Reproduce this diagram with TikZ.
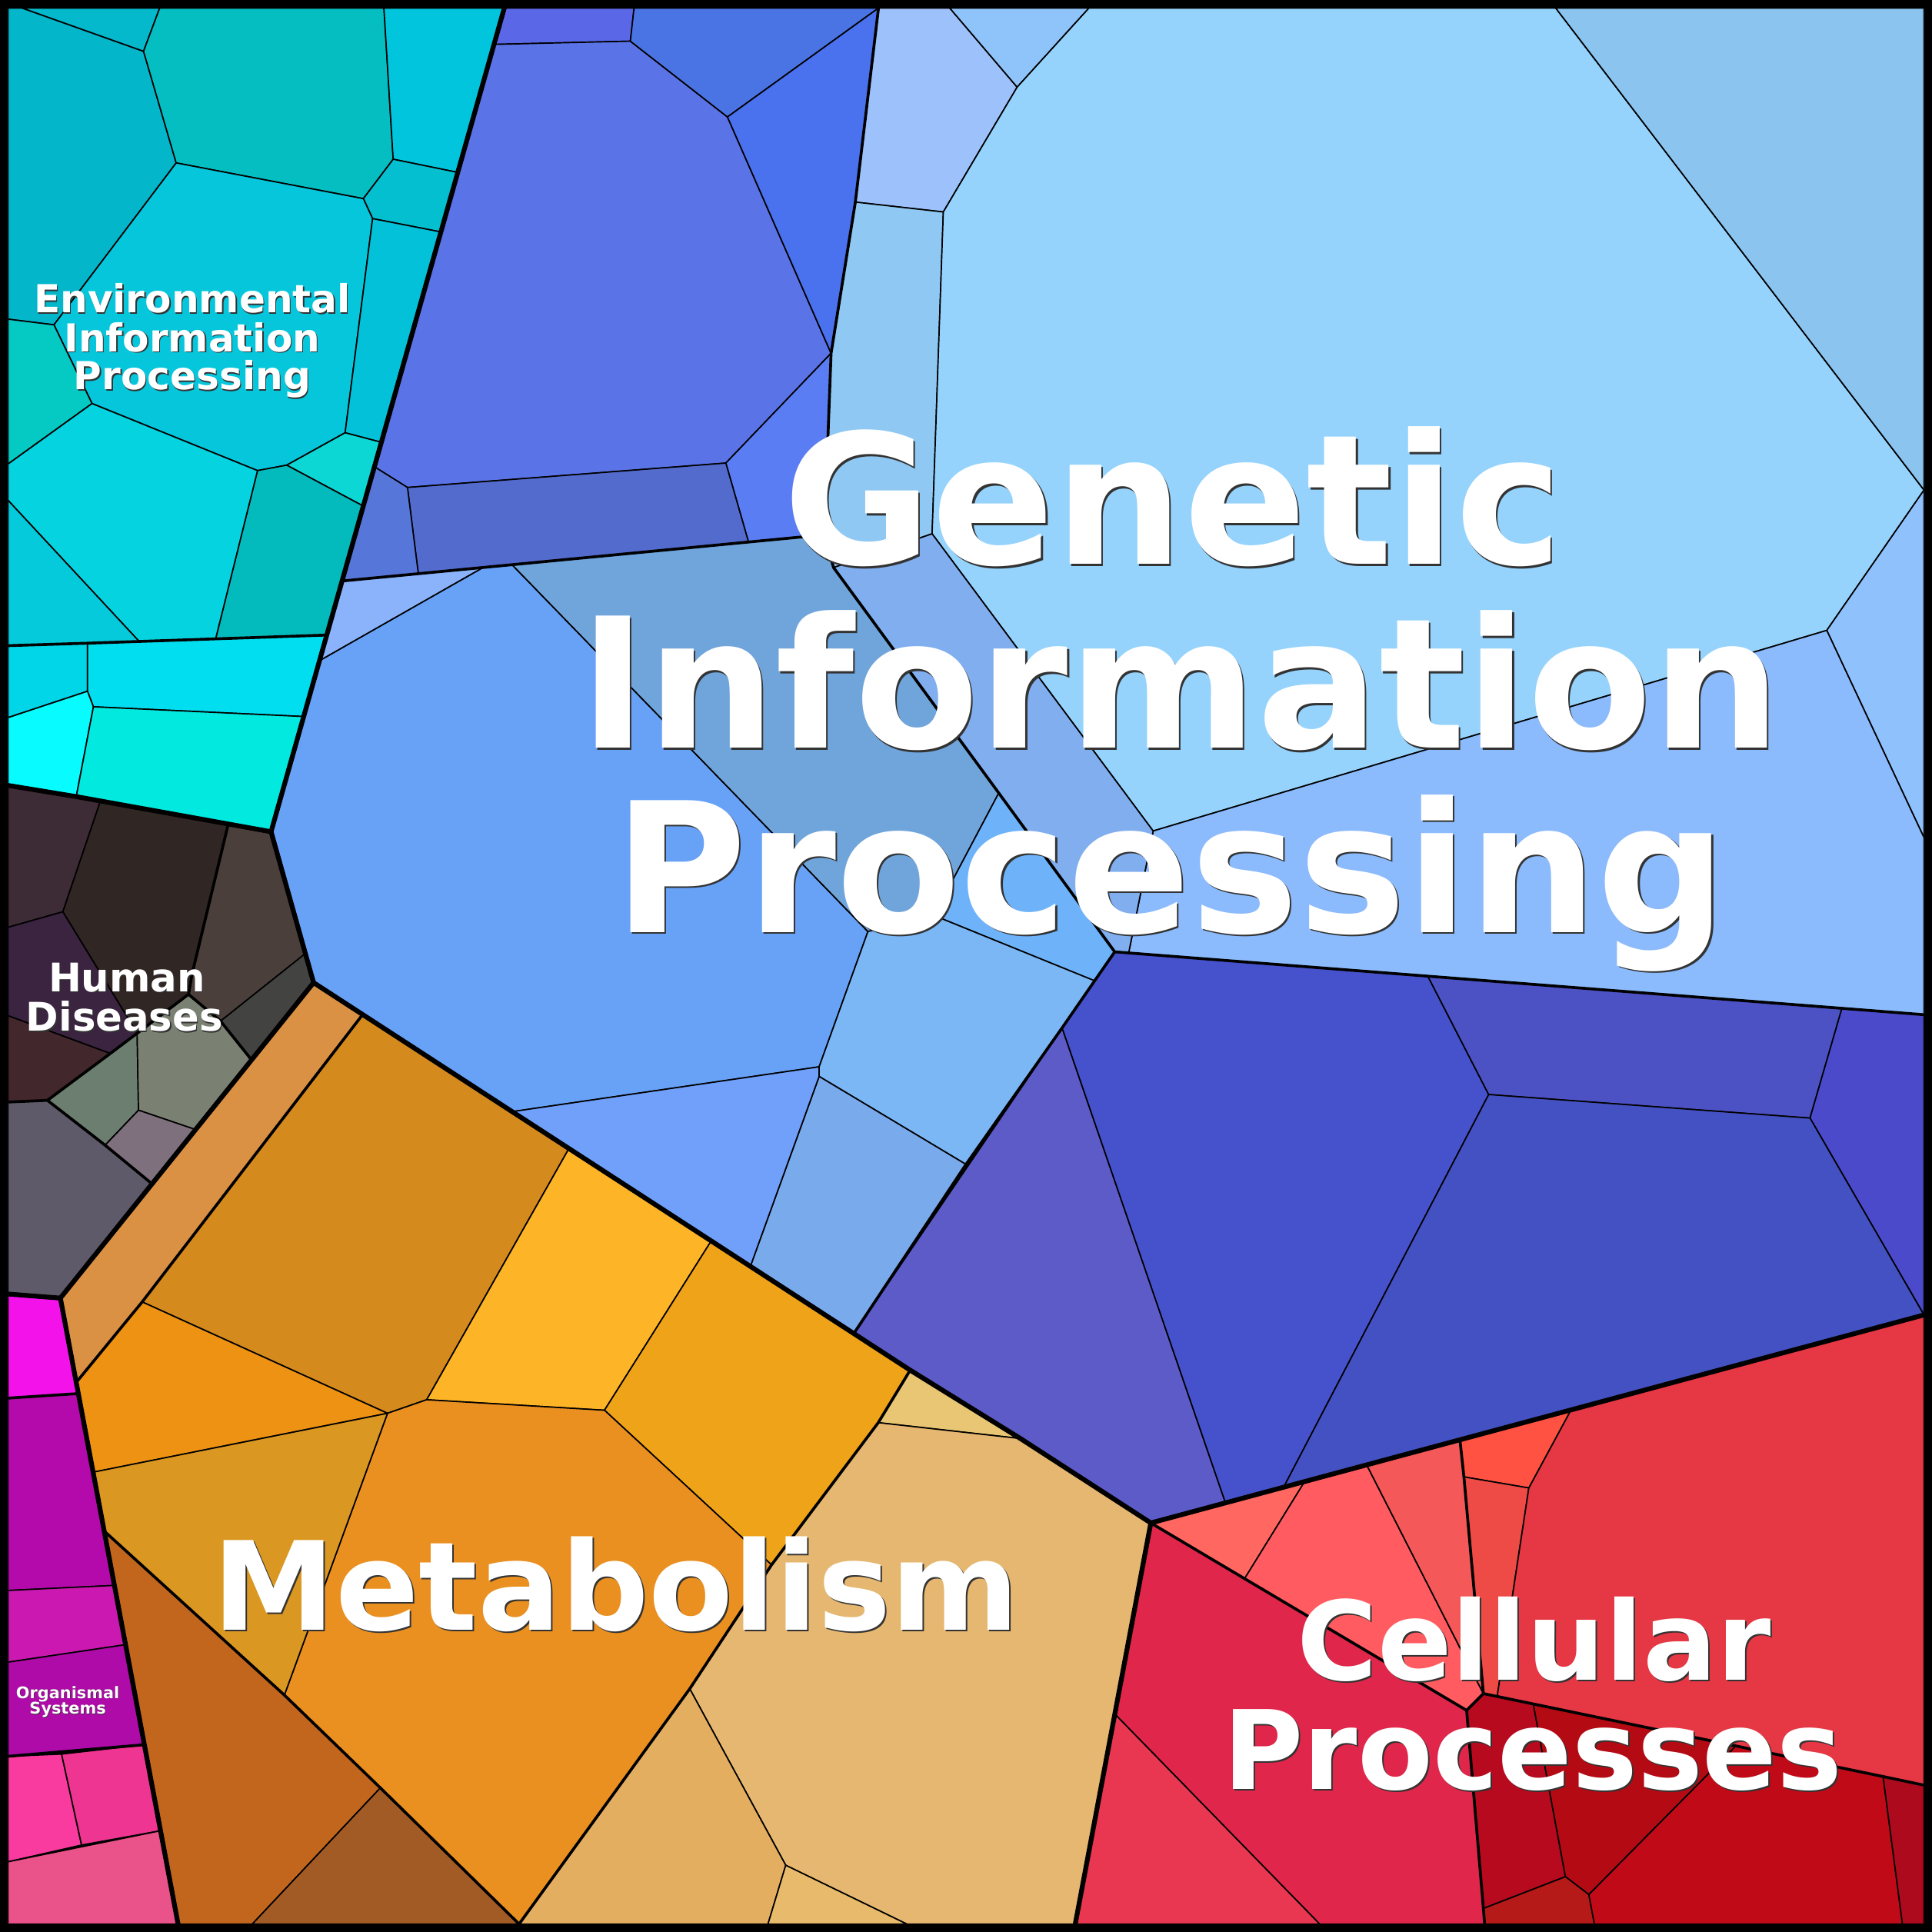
\documentclass[tikz,border=0pt]{standalone}
\usepackage{fontspec}
\setmainfont{DejaVu Sans}
% EIP
\definecolor{kE1}{HTML}{03B6CA}\definecolor{kE2}{HTML}{04B9CC}\definecolor{kE3}{HTML}{05BEC2}
\definecolor{kE4}{HTML}{00C5DC}\definecolor{kE5}{HTML}{04BFD0}\definecolor{kE6}{HTML}{06C6DC}
\definecolor{kE7}{HTML}{02C1D8}\definecolor{kE8}{HTML}{0DD7D5}\definecolor{kE9}{HTML}{03BBBC}
\definecolor{kE10}{HTML}{05C9C3}\definecolor{kE11}{HTML}{05D4E0}\definecolor{kE12}{HTML}{04CADB}
\definecolor{kE13}{HTML}{00D6E8}\definecolor{kE14}{HTML}{00DEEF}\definecolor{kE15}{HTML}{08FCFF}
\definecolor{kE16}{HTML}{02E9DF}
% HD
\definecolor{kH1}{HTML}{3D2B35}\definecolor{kH2}{HTML}{302624}\definecolor{kH3}{HTML}{3A2440}
\definecolor{kH4}{HTML}{42272C}\definecolor{kH5}{HTML}{4A3F3B}\definecolor{kH6}{HTML}{434341}
\definecolor{kH7}{HTML}{6C7E70}\definecolor{kH8}{HTML}{7A8173}\definecolor{kH9}{HTML}{7E707D}
\definecolor{kH10}{HTML}{5E5A6A}
% OS
\definecolor{kO1}{HTML}{F313EA}\definecolor{kO2}{HTML}{B40AAB}\definecolor{kO3}{HTML}{CA18B0}
\definecolor{kO4}{HTML}{AE0BA8}\definecolor{kO5}{HTML}{F93A9E}\definecolor{kO6}{HTML}{EF3592}
\definecolor{kO7}{HTML}{EA528A}
% GIP
\definecolor{kA1}{HTML}{5A68E8}\definecolor{kA2}{HTML}{5A73E6}\definecolor{kA3}{HTML}{4A74E4}
\definecolor{kA4}{HTML}{4A71EE}\definecolor{kA5}{HTML}{5A7DF3}\definecolor{kA6}{HTML}{526BCD}
\definecolor{kA7}{HTML}{5776DA}
\definecolor{kB1}{HTML}{9DC1FA}\definecolor{kB2}{HTML}{8FC4FA}\definecolor{kB3}{HTML}{8FC8F3}
\definecolor{kB4}{HTML}{95D3FD}\definecolor{kB5}{HTML}{80AEEF}\definecolor{kB6}{HTML}{8BBBFC}
\definecolor{kB7}{HTML}{8AC4EF}\definecolor{kB8}{HTML}{8FC1FC}
\definecolor{kC1}{HTML}{8AB3FB}\definecolor{kC2}{HTML}{68A2F7}\definecolor{kC3}{HTML}{70A5DC}
\definecolor{kC4}{HTML}{6EB3FA}\definecolor{kC5}{HTML}{7BB6F5}\definecolor{kC6}{HTML}{78AAEC}
\definecolor{kC7}{HTML}{70A0F9}
\definecolor{kD1}{HTML}{5C5BC8}\definecolor{kD2}{HTML}{4652CC}\definecolor{kD3}{HTML}{4C52C4}
\definecolor{kD4}{HTML}{4B4ACB}\definecolor{kD5}{HTML}{4451C2}
% Metabolism
\definecolor{kM1}{HTML}{DA9143}\definecolor{kM2}{HTML}{D48A1C}\definecolor{kM3}{HTML}{FDB426}
\definecolor{kM4}{HTML}{EFA318}\definecolor{kM5}{HTML}{EA9020}\definecolor{kM6}{HTML}{EE9214}
\definecolor{kM7}{HTML}{DA9822}\definecolor{kBr1}{HTML}{C2661E}\definecolor{kBr2}{HTML}{A35B26}
\definecolor{kP1}{HTML}{E8C673}\definecolor{kP2}{HTML}{E5B770}\definecolor{kP3}{HTML}{E3AE60}
\definecolor{kP4}{HTML}{E8BB6C}
% Cellular
\definecolor{kQ1}{HTML}{FF6760}\definecolor{kQ2}{HTML}{FF5B60}\definecolor{kQ3}{HTML}{F45858}
\definecolor{kQ4}{HTML}{FF5242}\definecolor{kQ5}{HTML}{EE4A46}\definecolor{kQ6}{HTML}{E53744}
\definecolor{kQ7}{HTML}{E0264A}\definecolor{kQ8}{HTML}{E93752}\definecolor{kQ9}{HTML}{B80A1E}
\definecolor{kQ10}{HTML}{B40A14}\definecolor{kQ11}{HTML}{B51A18}\definecolor{kQ12}{HTML}{C00A18}
\definecolor{kQ13}{HTML}{AE0A1E}
\tikzset{
  leafcell/.style={draw=black, line width=0.3pt, line join=round},
  lvltwo/.style={draw=black, line width=0.65pt, line join=round, line cap=round},
  lvlone/.style={draw=black, line width=1.1pt, line join=round, line cap=round},
  lbltext/.style={inner sep=0pt, anchor=base, text=white},
  lblshade/.style={inner sep=0pt, anchor=base, text=black!80},
}
\newcommand\mylbl[6]{%
  \node[lblshade, font=\bfseries\fontsize{#4}{#4}\selectfont, xshift=#5, yshift=-#5] (#1-sh) at (#2,#3) {#6};
  \node[lbltext, font=\bfseries\fontsize{#4}{#4}\selectfont] (#1) at (#2,#3) {#6};
}
\begin{document}
\begin{tikzpicture}[x=0.01cm, y=-0.01cm]
\useasboundingbox (0,0) rectangle (1568,1568);
\fill[black] (0,0) rectangle (1568,1568);
\begin{scope}
\clip (6.5,6.5) rectangle (1561.5,1561.5);
% ---------- Environmental Information Processing
\filldraw[leafcell, fill=kE1] (6.5,6.5) -- (18,6.5) -- (116.5,41.6) -- (143,132.2) -- (43.8,263.6) -- (6.5,259) -- cycle;
\filldraw[leafcell, fill=kE2] (18,6.5) -- (129.6,6.5) -- (116.5,41.6) -- cycle;
\filldraw[leafcell, fill=kE3] (129.6,6.5) -- (311.6,6.5) -- (319.1,129.2) -- (294.9,161.2) -- (143,132.2) -- (116.5,41.6) -- cycle;
\filldraw[leafcell, fill=kE4] (311.6,6.5) -- (410,6.5) -- (372,140) -- (319.1,129.2) -- cycle;
\filldraw[leafcell, fill=kE5] (319.1,129.2) -- (372,140) -- (358.2,188.3) -- (302.4,177.4) -- (294.9,161.2) -- cycle;
\filldraw[leafcell, fill=kE6] (143,132.2) -- (294.9,161.2) -- (302.4,177.4) -- (280.1,351.2) -- (232.7,377.5) -- (209,381.9) -- (74.7,327.5) -- (43.8,263.6) -- cycle;
\filldraw[leafcell, fill=kE7] (302.4,177.4) -- (358.2,188.3) -- (309.7,359) -- (280.1,351.2) -- cycle;
\filldraw[leafcell, fill=kE8] (280.1,351.2) -- (309.7,359) -- (295,410.8) -- (232.7,377.5) -- cycle;
\filldraw[leafcell, fill=kE9] (232.7,377.5) -- (295,410.8) -- (265.4,515.4) -- (175,518.4) -- (209,381.9) -- cycle;
\filldraw[leafcell, fill=kE10] (6.5,259) -- (43.8,263.6) -- (74.7,327.5) -- (6.5,376.6) -- cycle;
\filldraw[leafcell, fill=kE11] (6.5,376.6) -- (74.7,327.5) -- (209,381.9) -- (175,518.4) -- (112.9,520.5) -- (6.5,406) -- cycle;
\filldraw[leafcell, fill=kE12] (6.5,406) -- (112.9,520.5) -- (6.5,524) -- cycle;
\filldraw[leafcell, fill=kE13] (6.5,524) -- (71,522) -- (71,561) -- (6.5,582.4) -- cycle;
\filldraw[leafcell, fill=kE14] (71,522) -- (265.4,515.4) -- (246.4,581.5) -- (75.8,573.6) -- (71,561) -- cycle;
\filldraw[leafcell, fill=kE15] (6.5,582.4) -- (71,561) -- (75.8,573.6) -- (61.9,646.5) -- (6.5,637) -- cycle;
\filldraw[leafcell, fill=kE16] (75.8,573.6) -- (246.4,581.5) -- (220,675) -- (61.9,646.5) -- cycle;
% ---------- Human Diseases
\filldraw[leafcell, fill=kH1] (6.5,637) -- (81.2,651) -- (51,740) -- (6.5,752.6) -- cycle;
\filldraw[leafcell, fill=kH2] (81.2,651) -- (185.2,669) -- (156,790) -- (153,807) -- (111.3,838.6) -- (51,740) -- cycle;
\filldraw[leafcell, fill=kH3] (6.5,752.6) -- (51,740) -- (111.3,838.6) -- (89.5,855) -- (6.5,824.3) -- cycle;
\filldraw[leafcell, fill=kH4] (6.5,824.3) -- (89.5,855) -- (38.5,893) -- (6.5,894.4) -- cycle;
\filldraw[leafcell, fill=kH5] (185.2,669) -- (220,675) -- (248.3,773.5) -- (179,828.7) -- (153,807) -- (156,790) -- cycle;
\filldraw[leafcell, fill=kH6] (248.3,773.5) -- (254.5,797.5) -- (204,860) -- (179,828.7) -- cycle;
\filldraw[leafcell, fill=kH7] (38.5,893) -- (111.3,838.6) -- (112.4,901) -- (85.3,929.4) -- cycle;
\filldraw[leafcell, fill=kH8] (111.3,838.6) -- (153,807) -- (179,828.7) -- (204,860) -- (158,916.5) -- (112.4,901) -- cycle;
\filldraw[leafcell, fill=kH9] (85.3,929.4) -- (112.4,901) -- (158,916.5) -- (122.8,960.3) -- cycle;
\filldraw[leafcell, fill=kH10] (6.5,894.4) -- (38.5,893) -- (85.3,929.4) -- (122.8,960.3) -- (49,1053.5) -- (6.5,1050) -- cycle;
% ---------- Organismal Systems
\filldraw[leafcell, fill=kO1] (6.5,1050) -- (49,1053.5) -- (63.6,1131) -- (6.5,1134.7) -- cycle;
\filldraw[leafcell, fill=kO2] (6.5,1134.7) -- (63.6,1131) -- (92.8,1286.7) -- (6.5,1290.8) -- cycle;
\filldraw[leafcell, fill=kO3] (6.5,1290.8) -- (92.8,1286.7) -- (101.9,1334.8) -- (6.5,1349) -- cycle;
\filldraw[leafcell, fill=kO4] (6.5,1349) -- (101.9,1334.8) -- (117.1,1416) -- (6.5,1425.4) -- cycle;
\filldraw[leafcell, fill=kO5] (6.5,1425.4) -- (50,1423.6) -- (66.2,1497.4) -- (6.5,1511) -- cycle;
\filldraw[leafcell, fill=kO6] (50,1423.6) -- (117.1,1416) -- (130.3,1485.8) -- (66.2,1497.4) -- cycle;
\filldraw[leafcell, fill=kO7] (6.5,1511) -- (130.3,1485.8) -- (144.5,1561.5) -- (6.5,1561.5) -- cycle;
% ---------- Genetic Information Processing: group A
\filldraw[leafcell, fill=kA1] (410,6.5) -- (514.6,6.5) -- (511.6,33.4) -- (401.5,36) -- cycle;
\filldraw[leafcell, fill=kA2] (401.5,36) -- (511.6,33.4) -- (590.4,94.9) -- (674.5,286.7) -- (589.1,375.8) -- (330.7,395.6) -- (304.2,379) -- cycle;
\filldraw[leafcell, fill=kA3] (514.6,6.5) -- (713,6.5) -- (590.4,94.9) -- (511.6,33.4) -- cycle;
\filldraw[leafcell, fill=kA4] (590.4,94.9) -- (713,6.5) -- (694.2,164) -- (674.5,286.7) -- cycle;
\filldraw[leafcell, fill=kA5] (674.5,286.7) -- (669,434) -- (607.5,439.9) -- (589.1,375.8) -- cycle;
\filldraw[leafcell, fill=kA6] (330.7,395.6) -- (589.1,375.8) -- (607.5,439.9) -- (339.5,465.6) -- cycle;
\filldraw[leafcell, fill=kA7] (304.2,379) -- (330.7,395.6) -- (339.5,465.6) -- (277.8,471.5) -- cycle;
% group B
\filldraw[leafcell, fill=kB1] (713,6.5) -- (770.8,6.5) -- (825.5,70.7) -- (765.6,172) -- (694.2,164) -- cycle;
\filldraw[leafcell, fill=kB2] (770.8,6.5) -- (883.8,6.5) -- (825.5,70.7) -- cycle;
\filldraw[leafcell, fill=kB3] (694.2,164) -- (765.6,172) -- (756.5,433.2) -- (676.5,460.6) -- (669,434) -- (674.5,286.7) -- cycle;
\filldraw[leafcell, fill=kB4] (765.6,172) -- (825.5,70.7) -- (883.8,6.5) -- (1262.6,6.5) -- (1561.5,397.7) -- (1482.6,511.6) -- (935.9,674.4) -- (756.5,433.2) -- cycle;
\filldraw[leafcell, fill=kB7] (1262.6,6.5) -- (1561.5,6.5) -- (1561.5,397.7) -- cycle;
\filldraw[leafcell, fill=kB8] (1561.5,397.7) -- (1561.5,679.8) -- (1482.6,511.6) -- cycle;
\filldraw[leafcell, fill=kB6] (935.9,674.4) -- (1482.6,511.6) -- (1561.5,679.8) -- (1561.5,823.5) -- (916,773.4) -- cycle;
\filldraw[leafcell, fill=kB5] (676.5,460.6) -- (756.5,433.2) -- (935.9,674.4) -- (916,773.4) -- (904.7,772.5) -- cycle;
% group C
\filldraw[leafcell, fill=kC1] (277.8,471.5) -- (392.3,460.5) -- (259.4,536.2) -- cycle;
\filldraw[leafcell, fill=kC2] (259.4,536.2) -- (392.3,460.5) -- (415.6,458.3) -- (704.4,756) -- (664.8,865.8) -- (415.6,902.2) -- (254.5,797.5) -- (220,675) -- cycle;
\filldraw[leafcell, fill=kC3] (415.6,458.3) -- (669,434) -- (676.5,460.6) -- (810.6,643.6) -- (758,743) -- (704.4,756) -- cycle;
\filldraw[leafcell, fill=kC4] (810.6,643.6) -- (904.7,772.5) -- (888.4,796) -- (758,743) -- cycle;
\filldraw[leafcell, fill=kC5] (704.4,756) -- (758,743) -- (888.4,796) -- (784,945) -- (664.8,873.6) -- (664.8,865.8) -- cycle;
\filldraw[leafcell, fill=kC6] (664.8,873.6) -- (784,945) -- (692.8,1082.5) -- (608.9,1028) -- cycle;
\filldraw[leafcell, fill=kC7] (415.6,902.2) -- (664.8,865.8) -- (664.8,873.6) -- (608.9,1028) -- (577.1,1007.3) -- (461.7,932.2) -- cycle;
% group D
\filldraw[leafcell, fill=kD1] (692.8,1082.5) -- (862,834.2) -- (994.6,1219.7) -- (934,1236) -- (828.2,1167.5) -- (738.7,1112) -- cycle;
\filldraw[leafcell, fill=kD2] (862,834.2) -- (904.7,772.5) -- (1158.8,792.2) -- (1208.2,888.3) -- (1041.8,1207) -- (994.6,1219.7) -- cycle;
\filldraw[leafcell, fill=kD3] (1158.8,792.2) -- (1494.9,818.3) -- (1469,907.4) -- (1208.2,888.3) -- cycle;
\filldraw[leafcell, fill=kD4] (1494.9,818.3) -- (1561.5,823.5) -- (1561.5,1067.2) -- (1469,907.4) -- cycle;
\filldraw[leafcell, fill=kD5] (1208.2,888.3) -- (1469,907.4) -- (1561.5,1067.2) -- (1041.8,1207) -- cycle;
% ---------- Metabolism
\filldraw[leafcell, fill=kM1] (49,1053.5) -- (254.5,797.5) -- (294.3,823.4) -- (115.4,1056.6) -- (61.9,1121.9) -- cycle;
\filldraw[leafcell, fill=kM2] (294.3,823.4) -- (415.6,902.2) -- (461.7,932.2) -- (346.3,1136) -- (314.5,1147) -- (115.4,1056.6) -- cycle;
\filldraw[leafcell, fill=kM3] (461.7,932.2) -- (577.1,1007.3) -- (490.6,1144.5) -- (346.3,1136) -- cycle;
\filldraw[leafcell, fill=kM4] (577.1,1007.3) -- (608.9,1028) -- (692.8,1082.5) -- (738.7,1112) -- (712.8,1154.6) -- (626.2,1270) -- (490.6,1144.5) -- cycle;
\filldraw[leafcell, fill=kM5] (314.5,1147) -- (346.3,1136) -- (490.6,1144.5) -- (626.2,1270) -- (559.8,1370.6) -- (421.3,1561.5) -- (308.7,1451) -- (230.8,1375.7) -- cycle;
\filldraw[leafcell, fill=kM6] (115.4,1056.6) -- (314.5,1147) -- (75.6,1194.8) -- (61.9,1121.9) -- cycle;
\filldraw[leafcell, fill=kM7] (75.6,1194.8) -- (314.5,1147) -- (230.8,1375.7) -- (84.5,1242.5) -- cycle;
\filldraw[leafcell, fill=kBr1] (84.5,1242.5) -- (230.8,1375.7) -- (308.7,1451) -- (204.8,1561.5) -- (144.5,1561.5) -- cycle;
\filldraw[leafcell, fill=kBr2] (308.7,1451) -- (421.3,1561.5) -- (204.8,1561.5) -- cycle;
\filldraw[leafcell, fill=kP1] (738.7,1112) -- (828.2,1167.5) -- (712.8,1154.6) -- cycle;
\filldraw[leafcell, fill=kP2] (712.8,1154.6) -- (828.2,1167.5) -- (934,1236) -- (872.7,1561.5) -- (735.9,1561.5) -- (637.7,1513.8) -- (559.8,1370.6) -- (626.2,1270) -- cycle;
\filldraw[leafcell, fill=kP3] (559.8,1370.6) -- (637.7,1513.8) -- (623.3,1561.5) -- (421.3,1561.5) -- cycle;
\filldraw[leafcell, fill=kP4] (637.7,1513.8) -- (735.9,1561.5) -- (623.3,1561.5) -- cycle;
% ---------- Cellular Processes
\filldraw[leafcell, fill=kQ1] (934,1236) -- (1058.8,1202.5) -- (1010.1,1281.2) -- cycle;
\filldraw[leafcell, fill=kQ2] (1058.8,1202.5) -- (1109.2,1188.9) -- (1203.9,1374.5) -- (1190.3,1388.1) -- (1010.1,1281.2) -- cycle;
\filldraw[leafcell, fill=kQ3] (1109.2,1188.9) -- (1184.9,1168.6) -- (1188.1,1198.6) -- (1203.9,1374.5) -- cycle;
\filldraw[leafcell, fill=kQ4] (1184.9,1168.6) -- (1275,1144.4) -- (1240.8,1207.6) -- (1188.1,1198.6) -- cycle;
\filldraw[leafcell, fill=kQ5] (1188.1,1198.6) -- (1240.8,1207.6) -- (1215.1,1376.8) -- (1203.9,1374.5) -- cycle;
\filldraw[leafcell, fill=kQ6] (1275,1144.4) -- (1561.5,1067.2) -- (1561.5,1448.8) -- (1215.1,1376.8) -- (1240.8,1207.6) -- cycle;
\filldraw[leafcell, fill=kQ7] (934,1236) -- (1190.3,1388.1) -- (1203.9,1548.9) -- (1204.9,1561.5) -- (1071,1561.5) -- (904.8,1391.1) -- cycle;
\filldraw[leafcell, fill=kQ8] (904.8,1391.1) -- (1071,1561.5) -- (872.7,1561.5) -- cycle;
\filldraw[leafcell, fill=kQ9] (1190.3,1388.1) -- (1203.9,1374.5) -- (1244.4,1382.9) -- (1270.5,1523.1) -- (1203.9,1548.9) -- cycle;
\filldraw[leafcell, fill=kQ10] (1244.4,1382.9) -- (1408.9,1417) -- (1289.5,1537.6) -- (1270.5,1523.1) -- cycle;
\filldraw[leafcell, fill=kQ11] (1203.9,1548.9) -- (1270.5,1523.1) -- (1289.5,1537.6) -- (1294,1561.5) -- (1204.9,1561.5) -- cycle;
\filldraw[leafcell, fill=kQ12] (1408.9,1417) -- (1528.3,1441.8) -- (1544,1561.5) -- (1294,1561.5) -- (1289.5,1537.6) -- cycle;
\filldraw[leafcell, fill=kQ13] (1528.3,1441.8) -- (1561.5,1448.8) -- (1561.5,1561.5) -- (1544,1561.5) -- cycle;
% ---------- second-level boundaries
\draw[lvltwo] (6.5,524) -- (71,522) -- (265.4,515.4);
\draw[lvltwo] (185.2,669) -- (156,790) -- (153,807);
\draw[lvltwo] (38.5,893) -- (89.5,855) -- (111.3,838.6) -- (153,807) -- (179,828.7) -- (204,860);
\draw[lvltwo] (6.5,894.4) -- (38.5,893) -- (85.3,929.4) -- (122.8,960.3);
\draw[lvltwo] (6.5,1134.7) -- (63.6,1131);
\draw[lvltwo] (6.5,1425.4) -- (117.1,1416);
\draw[lvltwo] (713,6.5) -- (694.2,164) -- (674.5,286.7) -- (669,434);
\draw[lvltwo] (277.8,471.5) -- (669,434) -- (676.5,460.6) -- (810.6,643.6) -- (904.7,772.5) -- (1561.5,823.5);
\draw[lvltwo] (904.7,772.5) -- (888.4,796) -- (862,834.2) -- (784,945) -- (692.8,1082.5);
\draw[lvltwo] (294.3,823.4) -- (115.4,1056.6) -- (61.9,1121.9);
\draw[lvltwo] (84.5,1242.5) -- (230.8,1375.7) -- (308.7,1451) -- (421.3,1561.5);
\draw[lvltwo] (738.7,1112) -- (712.8,1154.6) -- (626.2,1270) -- (559.8,1370.6) -- (421.3,1561.5);
\draw[lvltwo] (934,1236) -- (1010.1,1281.2) -- (1190.3,1388.1) -- (1203.9,1374.5) -- (1188.1,1198.6) -- (1184.9,1168.6);
\draw[lvltwo] (1203.9,1374.5) -- (1215.1,1376.8) -- (1244.4,1382.9) -- (1408.9,1417) -- (1528.3,1441.8) -- (1561.5,1448.8);
\draw[lvltwo] (1190.3,1388.1) -- (1203.9,1548.9) -- (1204.9,1561.5);
% ---------- top-level boundaries
\draw[lvlone] (410,4) -- (220,675) -- (61.9,646.5) -- (4,637);
\draw[lvlone] (220,675) -- (254.5,797.5) -- (49,1053.5) -- (4,1050);
\draw[lvlone] (49,1053.5) -- (145,1564);
\draw[lvlone] (254.5,797.5) -- (738.7,1112) -- (828.2,1167.5) -- (934,1236) -- (872.2,1564);
\draw[lvlone] (934,1236) -- (1564,1066.5);
\end{scope}
% ---------- labels
\mylbl{gip1}{952}{458}{41.8pt}{0.4pt}{Genetic}
\mylbl{gip2}{958}{607.3}{41.8pt}{0.4pt}{Information}
\mylbl{gip3}{950}{756.7}{41.8pt}{0.4pt}{Processing}
\mylbl{met}{500}{1322.9}{28.4pt}{0.35pt}{Metabolism}
\mylbl{cp1}{1245}{1363.3}{25.3pt}{0.35pt}{Cellular}
\mylbl{cp2}{1244}{1452.4}{25.3pt}{0.35pt}{Processes}
\mylbl{eip1}{156}{254}{8.9pt}{0.25pt}{Environmental}
\mylbl{eip2}{156}{285.5}{8.9pt}{0.25pt}{Information}
\mylbl{eip3}{156}{316.2}{8.9pt}{0.25pt}{Processing}
\mylbl{hd1}{103}{804.9}{9.1pt}{0.25pt}{Human}
\mylbl{hd2}{101}{836.8}{9.1pt}{0.25pt}{Diseases}
\mylbl{os1}{55}{1378.3}{3.7pt}{0.12pt}{Organismal}
\mylbl{os2}{55}{1391}{3.7pt}{0.12pt}{Systems}
\end{tikzpicture}
\end{document}
